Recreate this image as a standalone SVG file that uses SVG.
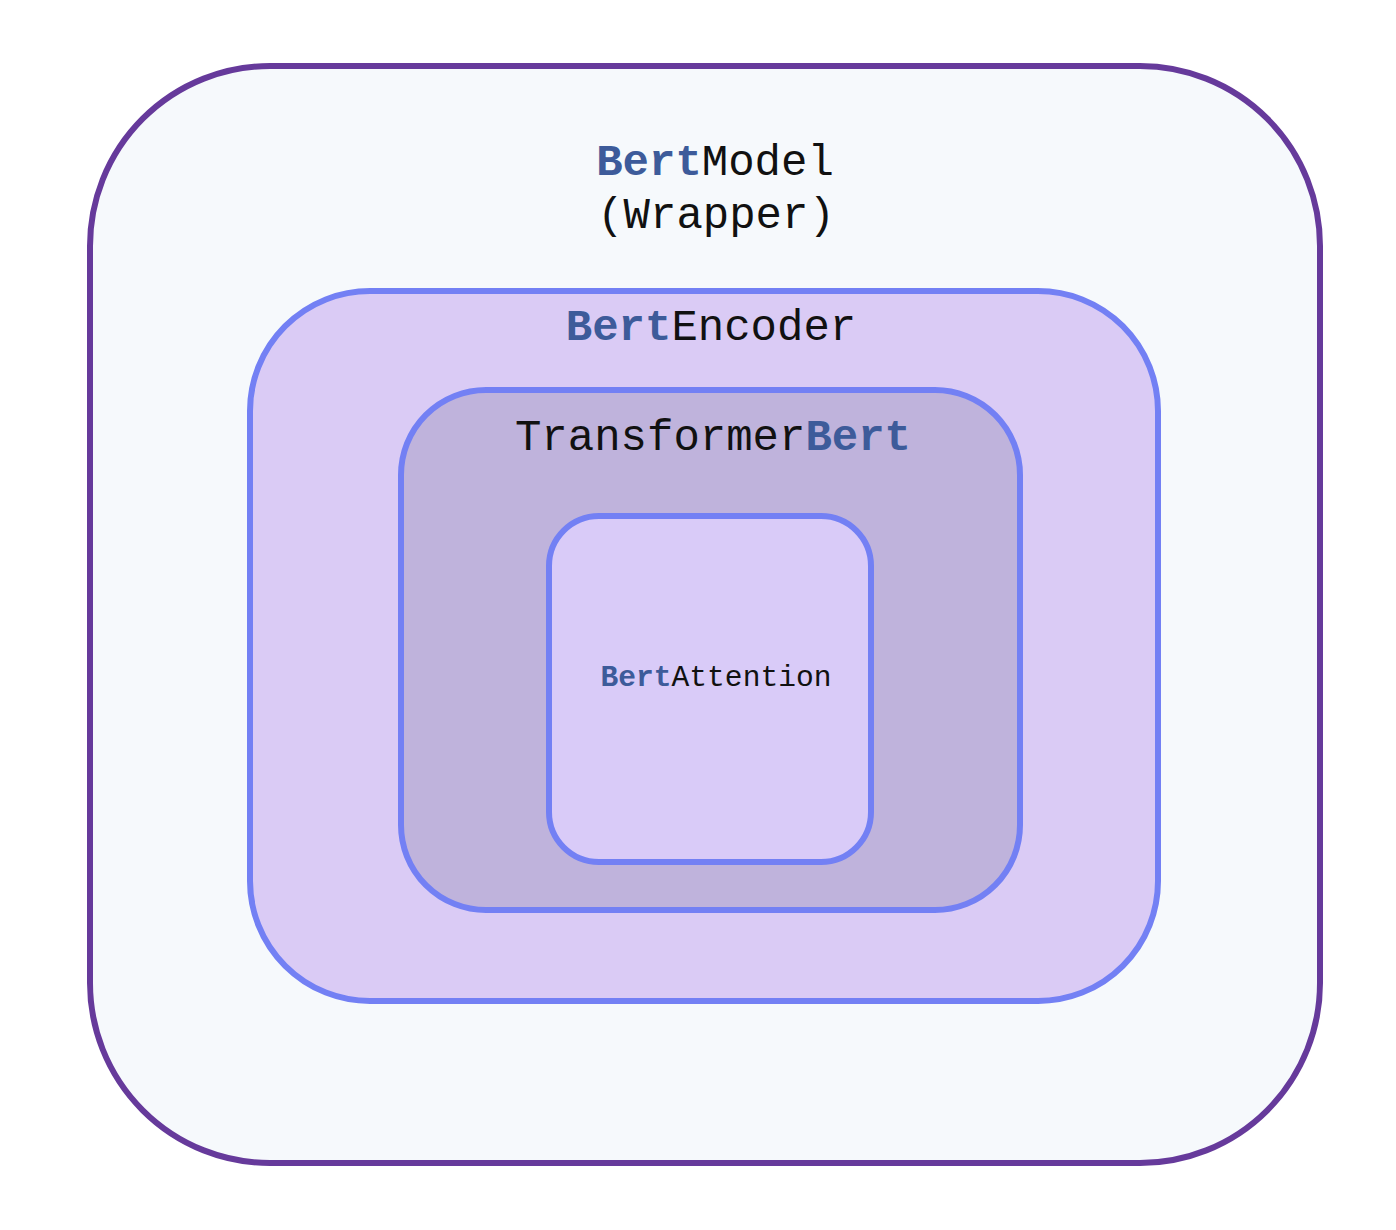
<svg xmlns="http://www.w3.org/2000/svg" width="1396" height="1230" viewBox="0 0 1396 1230">
<style>
text{font-family:"Liberation Mono","Courier New",monospace;text-anchor:middle}
.b{fill:#3d5b9a;font-weight:bold}
.k{fill:#111}
.big{font-size:44px}
.sm{font-size:29.6px}
.box{stroke:#7380f4;stroke-width:6}
</style>
<rect width="1396" height="1230" fill="#ffffff"/>
<g id="bertmodel">
<rect x="90" y="66" width="1230" height="1097" rx="180" ry="180" fill="#f6f9fc" stroke="#663a9b" stroke-width="6"/>
<text class="big" x="715" y="175"><tspan class="b">Bert</tspan><tspan class="k">Model</tspan></text>
<text class="big k" x="716" y="228">(Wrapper)</text>
</g>
<g id="bertencoder">
<rect class="box" x="250" y="291" width="908" height="710" rx="120" ry="120" fill="#dacbf5"/>
<text class="big" x="711" y="340"><tspan class="b">Bert</tspan><tspan class="k">Encoder</tspan></text>
</g>
<g id="transformerbert">
<rect class="box" x="401" y="390" width="619" height="520" rx="85" ry="85" fill="#bfb3dc"/>
<text class="big" x="713" y="450"><tspan class="k">Transformer</tspan><tspan class="b">Bert</tspan></text>
</g>
<g id="bertattention">
<rect class="box" x="549" y="516" width="322" height="346" rx="50" ry="50" fill="#d9cbf8"/>
<text class="sm" x="716" y="686"><tspan class="b">Bert</tspan><tspan class="k">Attention</tspan></text>
</g>
<g id="connectors"/>
</svg>
